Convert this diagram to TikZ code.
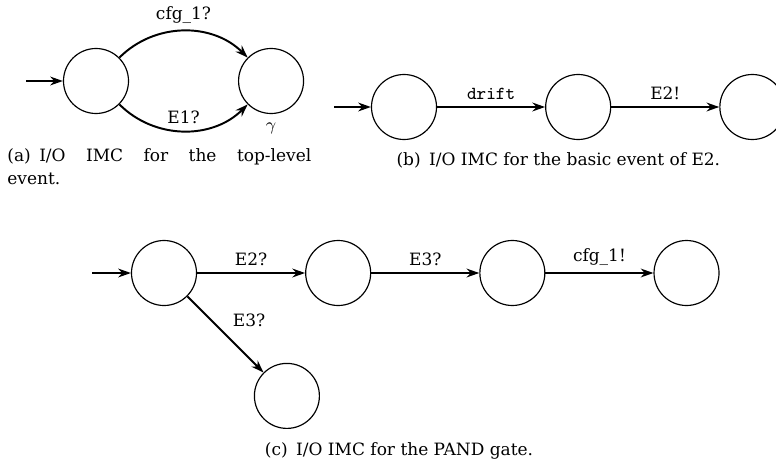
\documentclass[tikz,border=0pt]{standalone}
\usepackage{fontspec}
\setmainfont{DejaVu Serif}
\usetikzlibrary{positioning}
\usetikzlibrary{arrows.meta}

\begin{document}
\begin{tikzpicture}[font=\fontsize{8.7}{11.8}\selectfont]
        \tikzstyle{loc}=[circle, draw, line width=0.6pt,
            minimum size=1.17cm, inner sep=0pt]
        \tikzstyle{trans}=[-{Stealth[length=6.5pt,width=4.5pt]}, line width=1pt]
        \tikzstyle{captext}=[inner sep=0pt]
        \useasboundingbox (0,0) rectangle (13.968,-8.442);

            % (a) top-level event
            \node[loc] (a0) at (1.728,-1.458) {};
            \node[loc, right=1.96cm of a0,
                label={[label distance=1pt]below:$\gamma$}] (a1) {};
            \coordinate[left=0.66cm of a0] (ain);

            \draw[trans] (ain) -- (a0);
            \draw[trans] (a0) to[bend left=45]
            node[above] {cfg\_1?} (a1);
            \draw[trans] (a0) to[bend right=45]
            node[above] {E1?} (a1);

            \node[captext, text width=5.47cm, align=justify, anchor=north west]
            (capa) at (0.126,-2.67)
            {(a)\enskip I/O IMC for the top-level\linebreak event.};

            % (b) basic event of E2
            \node[loc] (b0) at (7.272,-1.926) {};
            \node[loc, right=1.944cm of b0] (b1) {};
            \node[loc, right=1.944cm of b1] (b2) {};
            \coordinate[left=0.66cm of b0] (bin);

            \draw[trans] (bin) -- (b0);
            \draw[trans] (b0) -- node[above] {\texttt{\fontsize{9.4}{11}\selectfont drift}} (b1);
            \draw[trans] (b1) -- node[above] {E2!} (b2);

            \node[captext] (capb) at (10.05,-2.89)
            {(b)\enskip I/O IMC for the basic event of E2.};

            % (c) PAND gate
            \node[loc] (c0) at (2.952,-4.914) {};
            \node[loc, right=1.944cm of c0] (c1) {};
            \node[loc, right=1.944cm of c1] (c2) {};
            \node[loc, right=1.944cm of c2] (c3) {};
            \node[loc, below right=1.37cm and 1.37cm of c0] (c4) {};
            \coordinate[left=0.7cm of c0] (cin);

            \draw[trans] (cin) -- (c0);
            \draw[trans] (c0) -- node[above] {E2?} (c1);
            \draw[trans] (c1) -- node[above] {E3?} (c2);
            \draw[trans] (c2) -- node[above] {cfg\_1!} (c3);
            \draw[trans] (c0) -- node[above right] {E3?} (c4);

            \node[captext] (capc) at (7.182,-8.12)
            {(c)\enskip I/O IMC for the PAND gate.};
        \end{tikzpicture}
\end{document}
